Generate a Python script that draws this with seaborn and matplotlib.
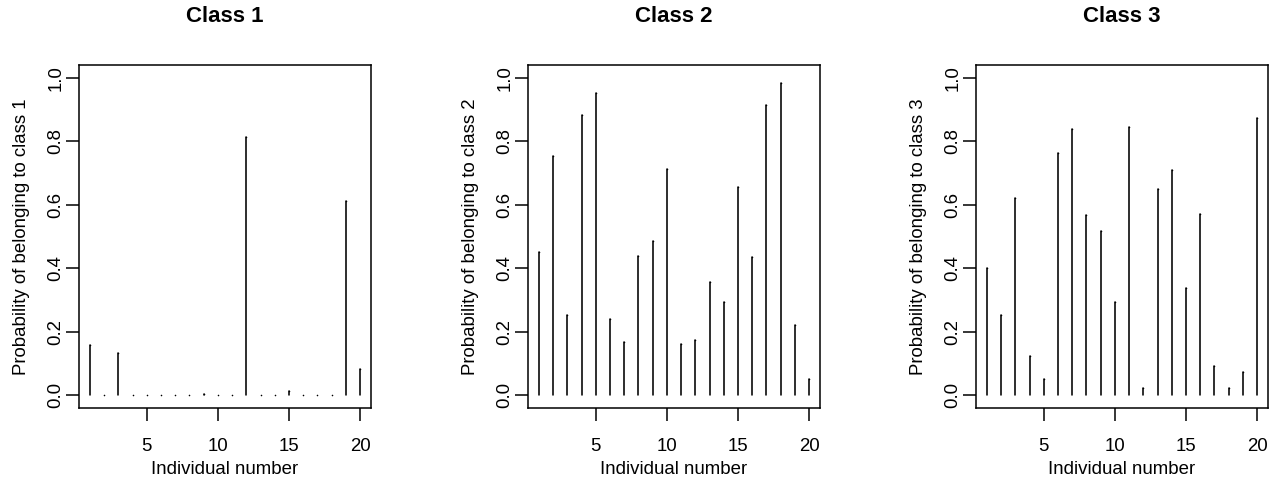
import numpy as np
import pandas as pd
import matplotlib
matplotlib.use("Agg")
import matplotlib.pyplot as plt
import seaborn as sns

# =========================
# DATA
# =========================

individuals = list(range(1, 21))

class1 = [0.157, 0.0, 0.132, 0.0, 0.0, 0.0, 0.0, 0.0, 0.005, 0.0,
          0.0, 0.812, 0.0, 0.0, 0.013, 0.0, 0.0, 0.0, 0.612, 0.083]

class2 = [0.450, 0.752, 0.253, 0.881, 0.953, 0.241, 0.167, 0.438, 0.485, 0.712,
          0.163, 0.173, 0.357, 0.295, 0.657, 0.434, 0.913, 0.983, 0.222, 0.052]

class3 = [0.400, 0.253, 0.622, 0.123, 0.052, 0.764, 0.839, 0.569, 0.517, 0.293,
          0.844, 0.023, 0.648, 0.710, 0.339, 0.572, 0.091, 0.023, 0.073, 0.873]

titles = ["Class 1", "Class 2", "Class 3"]
ylabels = ["Probability of belonging to class 1",
           "Probability of belonging to class 2",
           "Probability of belonging to class 3"]
xticks = [5, 10, 15, 20]
yticks = [0.0, 0.2, 0.4, 0.6, 0.8, 1.0]

# =========================
# STYLE
# =========================

sns.set_style("ticks")
plt.rcParams["font.family"] = ["Liberation Sans", "DejaVu Sans"]
plt.rcParams["axes.linewidth"] = 1.1
plt.rcParams["text.color"] = "black"
plt.rcParams["axes.labelcolor"] = "black"
plt.rcParams["axes.edgecolor"] = "black"
plt.rcParams["xtick.color"] = "black"
plt.rcParams["ytick.color"] = "black"

W, H = 1282, 486
fig = plt.figure(figsize=(W / 100, H / 100), dpi=100)

lefts = [79, 528, 976]
ax_w = 292
ax_top, ax_bottom = 65, 408

for k, vals in enumerate([class1, class2, class3]):
    ax = fig.add_axes([lefts[k] / W, (H - ax_bottom) / H,
                       ax_w / W, (ax_bottom - ax_top) / H])

    df = pd.DataFrame({"x": individuals, "y": vals})

    # stems (type = "h")
    ax.vlines(df["x"], 0, df["y"], color="black", linewidth=1.15,
              capstyle="round")
    # round line ends, also gives the dots for zero values
    sns.scatterplot(data=df, x="x", y="y", ax=ax, color="black",
                    s=1.3, linewidth=0, marker="o", zorder=3)

    ax.set_xlim(1 - 0.04 * 19, 20 + 0.04 * 19)
    ax.set_ylim(-0.04, 1.04)
    ax.set_xticks(xticks)
    ax.set_xticklabels([str(t) for t in xticks])
    ax.set_yticks(yticks)
    ax.set_yticklabels([f"{t:.1f}" for t in yticks], rotation=90,
                       va="center")

    ax.tick_params(axis="both", direction="out", length=9.4, width=1.1,
                   labelsize=13.4, colors="black")
    ax.tick_params(axis="x", pad=12.5)
    ax.tick_params(axis="y", pad=1)

    for sp in ax.spines.values():
        sp.set_visible(True)
        sp.set_color("black")

    ax.set_xlabel("Individual number", fontsize=13.4, labelpad=4,
                  color="black")
    ax.set_ylabel(ylabels[k], fontsize=13.4, labelpad=12.5, color="black")
    ax.set_title(titles[k], fontsize=16, fontweight="bold", pad=31,
                 color="black")

fig.savefig("out.png", dpi=100, facecolor="white")
